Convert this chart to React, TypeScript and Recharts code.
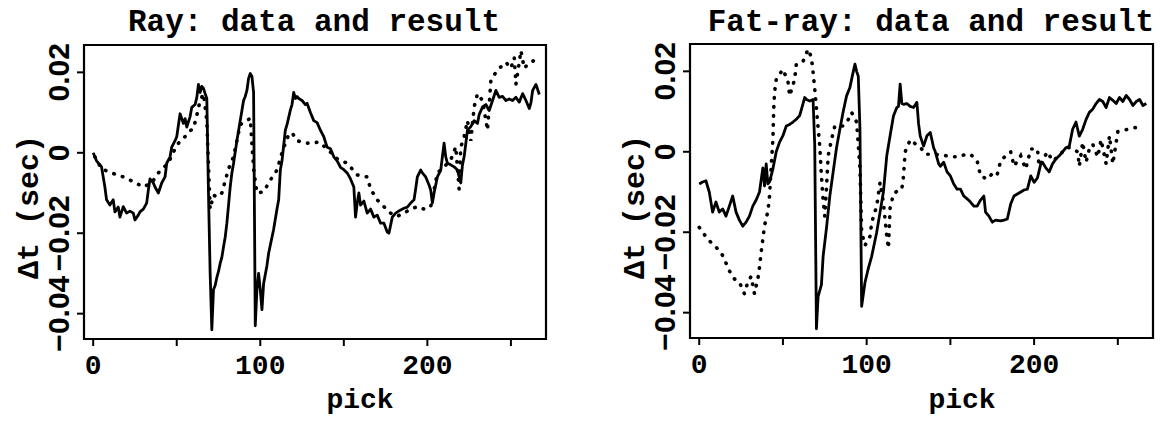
import { LineChart, Line, XAxis, YAxis, ReferenceArea, Label } from 'recharts';

// ---- values (pick number, delta t in seconds) ----

// Ray panel, solid line (data)
const rayDataPick = [
  0, 2, 5, 7, 8, 10, 12, 13, 15, 16, 18, 20, 22, 24, 25, 27, 28, 30, 32, 33, 34, 36, 37, 39, 41, 43, 44, 46, 47, 49,
  50, 52, 54, 55, 56, 58, 59, 61, 62, 63, 64, 65, 66, 67, 68, 69, 70, 71, 72, 73, 74, 75, 76, 77, 78, 79, 80, 81, 82, 83,
  84, 86, 88, 90, 91, 92, 93, 94, 95, 96, 97, 98, 99, 100, 101, 102, 104, 105, 106, 108, 110, 111, 112, 113, 115, 116, 118, 119, 120, 121,
  122, 123, 125, 127, 128, 130, 132, 134, 136, 138, 140, 142, 144, 146, 148, 150, 152, 154, 156, 157, 158, 159, 160, 162, 164, 166, 168, 170, 172, 174,
  176, 177, 179, 181, 184, 186, 188, 190, 192, 193, 194, 196, 197, 199, 201, 202, 203, 204, 206, 208, 210, 211, 212, 214, 216, 218, 220, 221, 222, 224,
  226, 228, 230, 231, 233, 235, 237, 239, 241, 243, 245, 247, 249, 251, 253, 255, 257, 259, 261, 262, 263, 265, 267,
];
const rayDataDt = [
  0, -0.002, -0.0035, -0.0085, -0.0117, -0.013, -0.0117, -0.0147, -0.0135, -0.016, -0.0134, -0.015, -0.0145, -0.015, -0.0167, -0.0155, -0.0147, -0.014, -0.0125, -0.0093, -0.0065, -0.0075, -0.0085, -0.01, -0.0075, -0.006, -0.0026, -0.001, 0.0014, 0.003,
  0.004, 0.0097, 0.0073, 0.0085, 0.0064, 0.009, 0.0113, 0.012, 0.0137, 0.017, 0.015, 0.0165, 0.016, 0.0147, 0.0135, -0.01, -0.03, -0.044, -0.034, -0.033, -0.031, -0.0295, -0.0275, -0.026, -0.0234, -0.021, -0.0175, -0.013, -0.0085, -0.005,
  -0.0026, 0.003, 0.008, 0.013, 0.014, 0.0155, 0.0185, 0.0197, 0.019, 0.015, -0.043, -0.034, -0.03, -0.034, -0.039, -0.0325, -0.028, -0.025, -0.023, -0.019, -0.014, -0.0117, -0.0043, -0.002, 0.0056, 0.007, 0.0106, 0.012, 0.015, 0.0135,
  0.014, 0.0135, 0.013, 0.012, 0.0123, 0.01, 0.008, 0.0075, 0.0056, 0.004, 0.0014, 0.001, -0.001, -0.002, -0.0036, -0.0042, -0.005, -0.0065, -0.0085, -0.016, -0.0125, -0.01, -0.013, -0.012, -0.015, -0.014, -0.016, -0.0155, -0.0175, -0.0175,
  -0.0197, -0.02, -0.016, -0.015, -0.0142, -0.0138, -0.0135, -0.0125, -0.0117, -0.009, -0.006, -0.0043, -0.005, -0.006, -0.008, -0.0093, -0.0125, -0.01, -0.006, -0.0043, 0.0024, -0.001, -0.0026, -0.003, -0.0035, -0.0043, -0.0075, -0.003, -0.001, 0.0056,
  0.0065, 0.008, 0.0073, 0.0095, 0.0114, 0.012, 0.0105, 0.013, 0.0155, 0.0138, 0.014, 0.013, 0.0134, 0.013, 0.0138, 0.0126, 0.0147, 0.013, 0.011, 0.0125, 0.0155, 0.017, 0.0145,
];

// Ray panel, dotted line (result)
const rayModelPick = [
  1, 5, 11, 18, 24, 30, 35, 39, 45, 49, 52, 55, 58, 60, 62, 64, 66, 68, 70, 72, 74, 77, 81, 84, 88, 92, 94, 96, 98, 102,
  106, 110, 113, 115, 117, 119, 122, 127, 131, 135, 140, 146, 152, 158, 164, 166, 170, 174, 178, 182, 186, 190, 194, 198, 202, 206, 210, 214, 217, 219,
  220, 222, 224, 226, 228, 230, 233, 236, 238, 241, 243, 247, 250, 252, 253, 256, 258, 260, 264, 267,
];
const rayModelDt = [
  -0.001, -0.004, -0.005, -0.006, -0.0072, -0.0085, -0.0075, -0.005, -0.0025, 0.001, 0.003, 0.004, 0.0055, 0.006, 0.0093, 0.013, 0.0147, 0.008, -0.014, -0.0105, -0.011, -0.01, -0.004, -0.001, 0.007, 0.008, 0.0086, -0.004, -0.01, -0.0097,
  -0.0068, -0.0043, 0, 0.0024, 0.0045, 0.005, 0.003, 0.0024, 0.0024, 0.0027, 0.001, -0.0015, -0.0026, -0.0055, -0.006, -0.009, -0.0117, -0.0134, -0.015, -0.0158, -0.015, -0.014, -0.0134, -0.014, -0.0134, -0.005, -0.0035, -0.0018, 0.0015, -0.009,
  0.0014, 0.004, 0.008, 0.003, 0.0114, 0.0147, 0.013, 0.0056, 0.018, 0.02, 0.021, 0.0225, 0.021, 0.0237, 0.017, 0.0254, 0.021, 0.022, 0.023, 0.0233,
];

// Fat-ray panel, solid line (data)
const fatDataPick = [
  0, 2, 4, 6, 8, 10, 12, 14, 16, 18, 20, 22, 24, 26, 28, 30, 32, 34, 36, 38, 39, 40, 41, 42, 44, 46, 48, 50, 52, 54,
  56, 58, 60, 62, 63, 64, 66, 68, 69, 70, 71, 73, 74, 76, 78, 80, 82, 84, 86, 88, 90, 91, 93, 94, 95, 96, 97, 99, 101, 103,
  106, 108, 110, 112, 114, 116, 118, 119, 120, 121, 122, 124, 126, 128, 130, 131, 132, 134, 136, 138, 140, 141, 143, 144, 146, 148, 150, 152, 154, 156,
  158, 160, 162, 164, 166, 168, 170, 171, 173, 175, 177, 180, 182, 184, 186, 188, 190, 192, 194, 196, 198, 200, 202, 204, 205, 207, 209, 211, 213, 215,
  217, 219, 221, 223, 225, 227, 229, 231, 233, 235, 237, 239, 241, 243, 245, 247, 249, 251, 253, 255, 257, 259, 261, 263, 265, 267,
];
const fatDataDt = [
  -0.008, -0.0075, -0.0072, -0.01, -0.015, -0.0125, -0.015, -0.0142, -0.016, -0.0135, -0.011, -0.015, -0.017, -0.0185, -0.0175, -0.016, -0.0135, -0.012, -0.01, -0.004, -0.0085, -0.003, -0.008, -0.0075, -0.0043, 0, 0.0024, 0.004, 0.0064, 0.0068,
  0.0074, 0.0081, 0.009, 0.012, 0.0135, 0.013, 0.0126, 0.013, 0.0014, -0.044, -0.036, -0.033, -0.026, -0.019, -0.011, -0.005, 0.001, 0.0056, 0.01, 0.0139, 0.016, 0.018, 0.0218, 0.02, 0.0188, 0.0056, -0.0384, -0.0325, -0.029, -0.026,
  -0.02, -0.015, -0.01, -0.001, 0.004, 0.0089, 0.011, 0.0113, 0.0168, 0.012, 0.0118, 0.012, 0.0113, 0.011, 0.0123, 0.007, 0.0039, 0.0014, 0.004, 0.0048, 0.001, 0, -0.003, -0.0036, -0.0026, -0.005, -0.006, -0.008, -0.0093, -0.0093,
  -0.011, -0.0117, -0.0125, -0.0135, -0.0135, -0.012, -0.011, -0.015, -0.016, -0.0175, -0.017, -0.0172, -0.017, -0.0167, -0.013, -0.011, -0.0105, -0.01, -0.0095, -0.0093, -0.006, -0.0076, -0.0065, -0.003, -0.0026, -0.004, -0.005, -0.003, -0.0018, -0.001,
  0, 0.001, 0.0014, 0.0056, 0.0074, 0.0039, 0.0056, 0.008, 0.0098, 0.0106, 0.012, 0.013, 0.0125, 0.011, 0.0135, 0.0128, 0.012, 0.0135, 0.0125, 0.014, 0.013, 0.0115, 0.0125, 0.013, 0.0115, 0.012,
];

// Fat-ray panel, dotted line (result)
const fatModelPick = [
  0, 5, 10, 13, 15, 18, 21, 24, 27, 29, 31, 33, 35, 36, 37, 38, 39, 41, 42, 43, 44, 44.5, 45, 46, 50, 53, 54, 57, 58, 62,
  65, 67, 68, 69, 71, 72, 73, 74, 75, 76, 77, 79, 81, 86, 89, 91, 94, 96, 97, 99, 102, 103, 106, 108, 110, 112, 113, 114, 116, 119,
  121, 122, 123, 126, 129, 132, 135, 140, 144, 148, 154, 158, 162, 166, 168, 172, 176, 178, 180, 183, 186, 188, 192, 195, 198, 202, 203, 208, 211, 215,
  219, 222, 226, 227, 229, 231, 233, 235, 238, 240, 243, 245, 247, 250, 255, 260, 265,
];
const fatModelDt = [
  -0.0188, -0.0217, -0.0237, -0.025, -0.0267, -0.0296, -0.0316, -0.0324, -0.0353, -0.0324, -0.031, -0.0353, -0.0316, -0.0287, -0.025, -0.0217, -0.0184, -0.0148, -0.011, -0.0036, 0.003, 0.0106, 0.0148, 0.018, 0.0205, 0.0175, 0.0139, 0.018, 0.0218, 0.0225,
  0.0255, 0.0235, 0.0198, 0.0156, 0.006, 0.0014, -0.006, -0.012, -0.016, -0.009, -0.001, 0.003, 0.0064, 0.0064, 0.008, 0.0098, 0.0074, -0.004, -0.02, -0.0233, -0.021, -0.0176, -0.0135, -0.0076, -0.0126, -0.021, -0.024, -0.014, -0.0105, -0.0095,
  -0.0093, -0.006, 0, 0.003, 0.002, 0.0012, -0.0006, -0.0006, -0.0008, -0.001, -0.0013, -0.0008, -0.0006, -0.0023, -0.006, -0.0068, -0.005, -0.0056, -0.0023, -0.001, 0, -0.0036, -0.001, -0.0043, 0.0007, 0.0007, -0.0036, 0, -0.0023, -0.001,
  0.001, 0.001, 0, -0.0036, 0.0024, -0.0026, 0.0007, 0.0019, -0.0013, 0.003, -0.003, 0.004, -0.003, 0.005, 0.0055, 0.006, 0.006,
];

const xTicks = [0, 50, 100, 150, 200, 250];
const xTickLabels = [0, 100, 200];
const yTicks = [-0.04, -0.02, 0, 0.02];
const xDomain: [number, number] = [-5.5, 271];
const yDomain: [number, number] = [-0.0463, 0.0268];

const zip = (p: number[], v: number[]) => p.map((x, i) => ({ p: x, v: v[i] }));

const serif = '"Liberation Mono", "Courier New", monospace';
const sans = '"Liberation Sans", Arial, sans-serif';

const XTick = ({ x, y, payload }: any) => {
  if (!xTickLabels.includes(payload.value)) return <g />;
  return (
    <text x={x} y={y + 28} textAnchor="middle" fill="#000" fontFamily={serif} fontWeight={700} fontSize={28}>
      {payload.value}
    </text>
  );
};

const YTick = ({ x, y, payload }: any) => {
  const v = payload.value as number;
  const txt = v === 0 ? '0' : v.toFixed(2).replace('-', '\u2212');
  const bx = x - 8;
  return (
    <text x={bx} y={y} transform={`rotate(-90, ${bx}, ${y})`} textAnchor="middle" fill="#000"
      fontFamily={sans} fontWeight={700} fontSize={30}>
      {txt}
    </text>
  );
};

type PanelProps = {
  title: string;
  data: { p: number; v: number }[];
  model: { p: number; v: number }[];
  left: number;
  margin: { top: number; right: number; bottom: number; left: number };
  yLabelX: number;
  pickX: number;
  titleX: number;
};

const Panel = ({ title, data, model, left, margin, yLabelX, pickX, titleX }: PanelProps) => (
  <div style={{ position: 'absolute', left, top: 0, width: 583, height: 423 }}>
    <LineChart width={583} height={423} margin={margin}>
      <XAxis
        type="number"
        dataKey="p"
        domain={xDomain}
        allowDataOverflow
        ticks={xTicks}
        interval={0}
        height={50}
        axisLine={false}
        tickSize={7}
        tickMargin={0}
        tickLine={{ stroke: '#000', strokeWidth: 2 }}
        tick={<XTick />}
      >
        <Label
          content={() => (
            <text x={pickX} y={408} textAnchor="middle" fill="#000" fontFamily={serif} fontWeight={700} fontSize={28}>
              pick
            </text>
          )}
        />
      </XAxis>
      <YAxis
        type="number"
        domain={yDomain}
        allowDataOverflow
        ticks={yTicks}
        interval={0}
        width={70}
        axisLine={false}
        tickSize={7}
        tickMargin={0}
        tickLine={{ stroke: '#000', strokeWidth: 2 }}
        tick={<YTick />}
      >
        <Label
          content={() => (
            <text x={yLabelX} y={207} transform={`rotate(-90, ${yLabelX}, 207)`} textAnchor="middle" fill="#000"
              fontFamily={serif} fontWeight={700} fontSize={30}>
              Δt (sec)
            </text>
          )}
        />
      </YAxis>
      <ReferenceArea x1={xDomain[0]} x2={xDomain[1]} y1={yDomain[0]} y2={yDomain[1]}
        fill="none" fillOpacity={0} stroke="#000" strokeWidth={2.2} strokeOpacity={1} />
      <Line data={model} dataKey="v" type="linear" stroke="#000" strokeWidth={3.6}
        strokeDasharray="0.5 8.5" strokeLinecap="round" dot={false} isAnimationActive={false} />
      <Line data={data} dataKey="v" type="linear" stroke="#000" strokeWidth={2.8}
        strokeLinejoin="round" dot={false} isAnimationActive={false} />
    </LineChart>
    <svg width={583} height={50} style={{ position: 'absolute', left: 0, top: 0 }}>
      <text x={titleX} y={31} textAnchor="middle" fill="#000" fontFamily={serif} fontWeight={700} fontSize={31}>
        {title}
      </text>
    </svg>
  </div>
);

export default function App() {
  return (
    <div style={{ position: 'absolute', left: 0, top: 0, width: 1166, height: 423, background: '#fff' }}>
      <Panel
        title="Ray: data and result"
        data={zip(rayDataPick, rayDataDt)}
        model={zip(rayModelPick, rayModelDt)}
        left={0}
        margin={{ top: 45, right: 37, bottom: 34, left: 14 }}
        yLabelX={38}
        pickX={360}
        titleX={314}
      />
      <Panel
        title="Fat-ray: data and result"
        data={zip(fatDataPick, fatDataDt)}
        model={zip(fatModelPick, fatModelDt)}
        left={583}
        margin={{ top: 44, right: 13, bottom: 35, left: 37 }}
        yLabelX={61}
        pickX={379}
        titleX={348}
      />
    </div>
  );
}
